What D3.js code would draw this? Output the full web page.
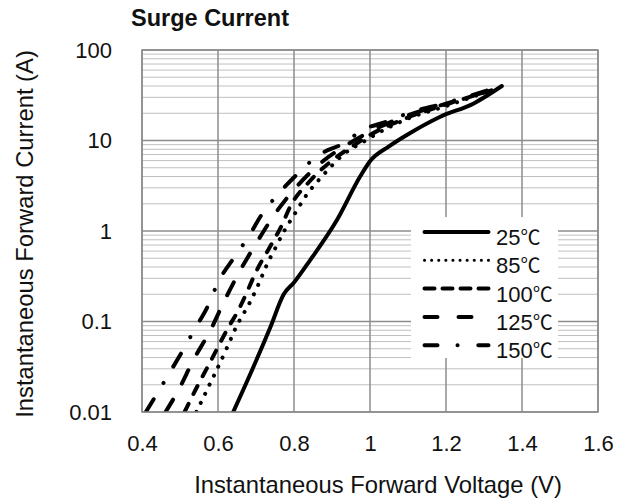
<!DOCTYPE html>
<html>
<head>
<meta charset="utf-8">
<script src="https://cdn.jsdelivr.net/npm/d3@7"></script>
<style>
  body { margin: 0; background: #fff; }
  svg { display: block; font-family: "Liberation Sans", Arial, sans-serif; }
  .deg { font-family: "Noto Sans CJK JP", "DejaVu Sans", sans-serif; }
</style>
</head>
<body>
<svg width="618" height="500"></svg>
<script>
// values: [voltage (V), current (A)]
var curve25 = [[0.64,0.01],[0.694,0.032],[0.738,0.087],[0.773,0.2],[0.80,0.27],[0.843,0.48],[0.913,1.32],[0.974,4.0],[1.0,5.9],[1.05,8.6],[1.097,11.5],[1.185,18.3],[1.273,25.7],[1.347,40]];
var curve85 = [[0.543,0.01],[0.558,0.0135],[0.626,0.054],[0.646,0.084],[0.685,0.166],[0.707,0.26],[0.727,0.41],[0.751,0.65],[0.773,0.98],[0.803,1.57],[0.83,2.4],[0.878,4.2],[0.93,7.0],[0.983,9.7],[1.05,14],[1.1,17.5],[1.2,24],[1.31,35]];
var curve100 = [[0.512,0.01],[0.545,0.019],[0.58,0.036],[0.628,0.087],[0.654,0.134],[0.676,0.21],[0.698,0.34],[0.742,0.73],[0.768,1.16],[0.79,1.86],[0.84,3.5],[0.9,6],[0.96,9],[1.0,11.5],[1.1,18],[1.2,25],[1.33,37]];
var curve125 = [[0.462,0.01],[0.496,0.0175],[0.536,0.038],[0.58,0.08],[0.617,0.17],[0.659,0.37],[0.703,0.76],[0.751,1.57],[0.803,2.96],[0.874,5.8],[0.94,9],[1.0,12.5],[1.1,19],[1.2,25.5],[1.32,36]];
var curve150 = [[0.41,0.01],[0.435,0.0148],[0.47,0.026],[0.505,0.046],[0.54,0.084],[0.574,0.15],[0.60,0.27],[0.641,0.5],[0.68,0.86],[0.716,1.54],[0.76,2.6],[0.81,4.3],[0.865,6.9],[0.93,9.3],[0.98,13],[1.05,16.5],[1.1,20],[1.2,26],[1.32,37]];

var seriesNames = ["25", "85", "100", "125", "150"];
var xTicks = [0.4, 0.6, 0.8, 1, 1.2, 1.4, 1.6];
var yTicks = [0.01, 0.1, 1, 10, 100];

var svg = d3.select("svg"),
    margin = {top: 50, right: 20, bottom: 88, left: 142},
    width = 456,
    height = 362,
    g = svg.append("g").attr("transform", "translate(" + margin.left + "," + margin.top + ")");

var x = d3.scaleLinear().domain([0.4, 1.6]).range([0, width]);
var y = d3.scaleLog().domain([0.01, 100]).range([height, 0]);

// line styles: plot dash pattern, legend dash pattern
var styles = {
  "25":  {plot: null, legend: null, w: 4},
  "85":  {plot: "0.1 10", legend: "0.1 7", w: 4, lw: 3},
  "100": {plot: "9 11", legend: "10 8", w: 4},
  "125": {plot: "14.5 18.5", legend: "13 21", w: 4},
  "150": {plot: "15 19 0.1 19", legend: "13 20 0.1 20.7", w: 4}
};
var curves = {"25": curve25, "85": curve85, "100": curve100, "125": curve125, "150": curve150};

// minor + major horizontal grid
var isMajor = function(v) { return Math.abs(Math.log10(v) - Math.round(Math.log10(v))) < 1e-6; };
g.append("g").selectAll("line")
    .data(y.ticks().filter(function(d) { return !isMajor(d); }))
  .enter().append("line")
    .attr("x1", 0).attr("x2", width)
    .attr("y1", function(d) { return y(d); }).attr("y2", function(d) { return y(d); })
    .attr("stroke", "#c0c0c0").attr("stroke-width", 1);

g.append("g").selectAll("line")
    .data(yTicks)
  .enter().append("line")
    .attr("x1", 0).attr("x2", width)
    .attr("y1", function(d) { return y(d); }).attr("y2", function(d) { return y(d); })
    .attr("stroke", "#8c8c8c").attr("stroke-width", 1.5);

g.append("g").selectAll("line")
    .data(xTicks)
  .enter().append("line")
    .attr("y1", 0).attr("y2", height)
    .attr("x1", function(d) { return x(d); }).attr("x2", function(d) { return x(d); })
    .attr("stroke", "#8c8c8c").attr("stroke-width", 1.5);

// axes (labels only)
var xAxis = g.append("g")
    .attr("transform", "translate(0," + height + ")")
    .call(d3.axisBottom(x).tickValues(xTicks).tickSize(0).tickPadding(23).tickFormat(d3.format("")));
var yAxis = g.append("g")
    .call(d3.axisLeft(y).tickValues(yTicks).tickSize(0).tickPadding(30).tickFormat(function(d) { return String(d); }));
[xAxis, yAxis].forEach(function(a) {
  a.select(".domain").remove();
  a.selectAll("text").attr("font-family", "Liberation Sans, Arial, sans-serif").attr("font-size", 22).attr("fill", "#111");
});

// legend box (covers the grid)
var lg = svg.append("g").attr("transform", "translate(411,217)");
lg.append("rect").attr("width", 147).attr("height", 141).attr("fill", "#fff");

// curves
g.append("defs").append("clipPath").attr("id", "clip")
  .append("rect").attr("width", width).attr("height", height);

var line = d3.line()
    .x(function(d) { return x(d[0]); })
    .y(function(d) { return y(d[1]); })
    .curve(d3.curveMonotoneX);

seriesNames.forEach(function(name) {
  var s = styles[name];
  g.append("path")
    .datum(curves[name])
    .attr("clip-path", "url(#clip)")
    .attr("fill", "none")
    .attr("stroke", "#000")
    .attr("stroke-width", s.w)
    .attr("stroke-linecap", "round")
    .attr("stroke-linejoin", "round")
    .attr("stroke-dasharray", s.plot)
    .attr("d", line);
});

// legend entries
seriesNames.forEach(function(name, i) {
  var s = styles[name];
  var row = lg.append("g").attr("transform", "translate(0," + (15 + i * 28.3) + ")");
  row.append("line")
    .attr("x1", 13.5).attr("x2", 77.5)
    .attr("stroke", "#000")
    .attr("stroke-width", s.lw || s.w)
    .attr("stroke-linecap", "round")
    .attr("stroke-dasharray", s.legend);
  var t = row.append("text")
    .attr("x", 85).attr("y", 13)
    .attr("font-size", 22)
    .attr("fill", "#111");
  t.append("tspan").text(name);
  t.append("tspan").attr("class", "deg").attr("font-size", 20).text("℃");
});

// plot border
g.append("rect")
    .attr("width", width).attr("height", height)
    .attr("fill", "none").attr("stroke", "#8c8c8c").attr("stroke-width", 1.5);

// titles
svg.append("text")
    .attr("x", 210).attr("y", 26)
    .attr("text-anchor", "middle")
    .attr("font-weight", "bold")
    .attr("font-size", 23.5)
    .attr("fill", "#111")
    .text("Surge Current");

svg.append("text")
    .attr("x", 378).attr("y", 493)
    .attr("text-anchor", "middle")
    .attr("font-size", 23.8)
    .attr("fill", "#111")
    .text("Instantaneous Forward Voltage (V)");

svg.append("text")
    .attr("transform", "translate(33,234) rotate(-90)")
    .attr("text-anchor", "middle")
    .attr("font-size", 23.8)
    .attr("fill", "#111")
    .text("Instantaneous Forward Current (A)");
</script>
</body>
</html>
